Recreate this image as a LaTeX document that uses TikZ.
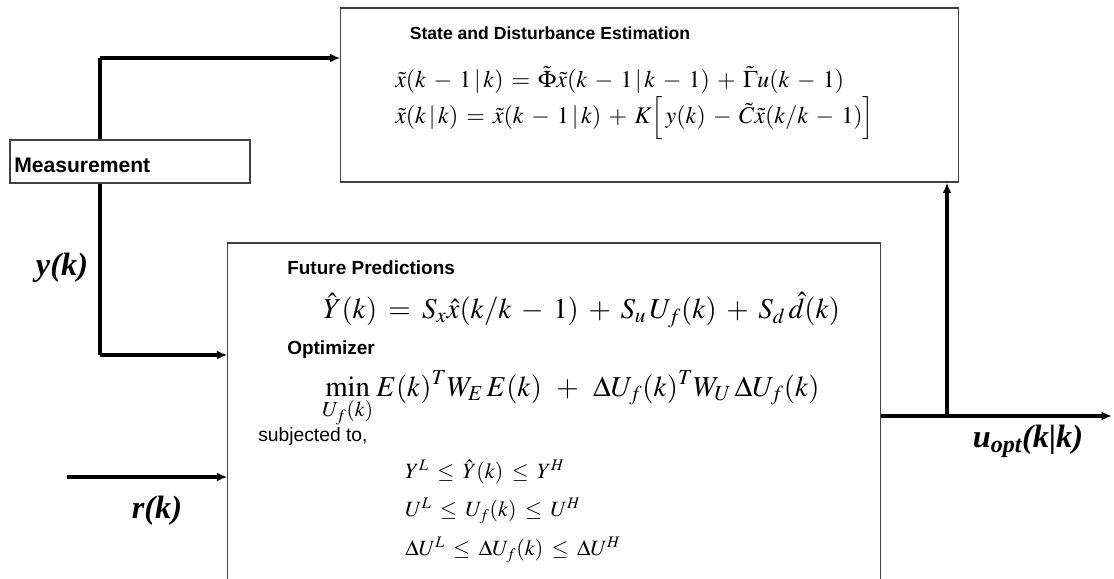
\documentclass[tikz,border=0pt]{standalone}
\usepackage{amsmath}
\usepackage{mathptmx}
\usepackage{fontspec}
\setmainfont{Liberation Serif}
\setsansfont{Liberation Sans}
\usepackage{tikz}
\usetikzlibrary{arrows.meta, positioning}
\tikzset{
  box/.style={rectangle, draw=black!75, line width=0.8pt, fill=white, inner sep=0pt},
  heading/.style={font=\fontsize{13.5}{15}\sffamily\bfseries, inner sep=0pt},
  eqn/.style={anchor=west, font=\fontsize{15.5}{18}\selectfont, inner sep=0pt,
    execute at begin node={\medmuskip=6mu\thickmuskip=7mu}},
  bigeqn/.style={anchor=west, font=\fontsize{20.5}{22}\selectfont, inner sep=0pt,
    execute at begin node={\medmuskip=6mu\thickmuskip=7mu}},
  esteqn/.style={anchor=west, font=\fontsize{17}{20}\selectfont, inner sep=0pt,
    execute at begin node={\medmuskip=5.5mu\thickmuskip=6mu}},
  plain/.style={anchor=west, font=\fontsize{13.7}{15}\sffamily, inner sep=0pt},
  siglabel/.style={font=\fontsize{23}{26}\rmfamily\bfseries\itshape, inner sep=0pt},
  arrowline/.style={-{Latex[length=2.6mm, width=2.2mm]}, line width=2.3pt},
  plainline/.style={line width=2.3pt}
}

\begin{document}
\begin{tikzpicture}[x=0.025cm, y=-0.025cm]
  \useasboundingbox (0,0) rectangle (1114,579);
  \clip (0,0) rectangle (1114,579);

  % blocks
  \node[box, minimum width=15.425cm, minimum height=4.35cm] (est) at (649.5,95) {};
  \node[box, minimum width=16.3cm, minimum height=9.175cm] (pred) at (554,426.5) {};

  % signal taps
  \coordinate (tap) at (100,58);
  \coordinate (ykin) at (100,355);
  \coordinate (rin) at (67,477);
  \coordinate (branch) at (947,416);
  \coordinate (uout) at (1112,416);

  \draw[plainline] (ykin) -- (tap);
  \draw[arrowline] (tap) -- (tap -| est.west);
  \draw[arrowline] (ykin) -- (ykin -| pred.west);
  \draw[arrowline] (rin) -- (rin -| pred.west);
  \draw[arrowline] (pred.east |- uout) -- (uout);
  \draw[arrowline] (branch) -- (branch |- est.south);

  \node[box, minimum width=6cm, minimum height=1.075cm] (meas) at (130,161.5) {};
  \node[heading, font=\fontsize{15}{17}\sffamily\bfseries, anchor=west] (meastxt) at (14,165) {Measurement};

  % estimator text
  \node[heading, font=\fontsize{12.5}{15}\sffamily\bfseries] (esttitle) at (550,33) {State and Disturbance Estimation};
  \node[esteqn] (esteq1) at (395,80)
    {$\tilde{x}(k-1\,|\,k)=\tilde{\Phi}\tilde{x}(k-1\,|\,k-1)+\tilde{\Gamma}u(k-1)$};
  \node[esteqn] (esteq2) at (395,118)
    {$\tilde{x}(k\,|\,k)=\tilde{x}(k-1\,|\,k)+K\Bigl[\,y(k)-\tilde{C}\tilde{x}(k/k-1)\Bigr]$};

  % predictor / optimizer text
  \node[heading, anchor=west] (predtitle) at (287,268) {Future Predictions};
  \node[bigeqn] (predeq) at (323,310)
    {$\hat{Y}(k)=S_x\hat{x}(k/k-1)+S_u\,U_f(k)+S_d\,\hat{d}(k)$};
  \node[heading, anchor=west] (opttitle) at (287,350) {Optimizer};
  \node[bigeqn, anchor=base west, execute at begin node={\medmuskip=9mu}] (opteq) at (322,396)
    {$\displaystyle\min_{U_f(k)}E(k)^T W_E\,E(k)+\Delta U_f(k)^T W_U\,\Delta U_f(k)$};
  \node[plain] (subj) at (258,437) {subjected to,};
  \node[eqn] (con1) at (405,472) {$Y^L\le\hat{Y}(k)\le Y^H$};
  \node[eqn] (con2) at (405,511) {$U^L\le U_f(k)\le U^H$};
  \node[eqn] (con3) at (405,550) {$\Delta U^L\le\Delta U_f(k)\le\Delta U^H$};

  % signal labels
  \node[siglabel] (ylab) at (62,268) {y(k)};
  \node[siglabel] (rlab) at (157,511) {r(k)};
  \node[siglabel] (ulab) at (1028,441) {u\textsubscript{opt}(k|k)};
\end{tikzpicture}
\end{document}
